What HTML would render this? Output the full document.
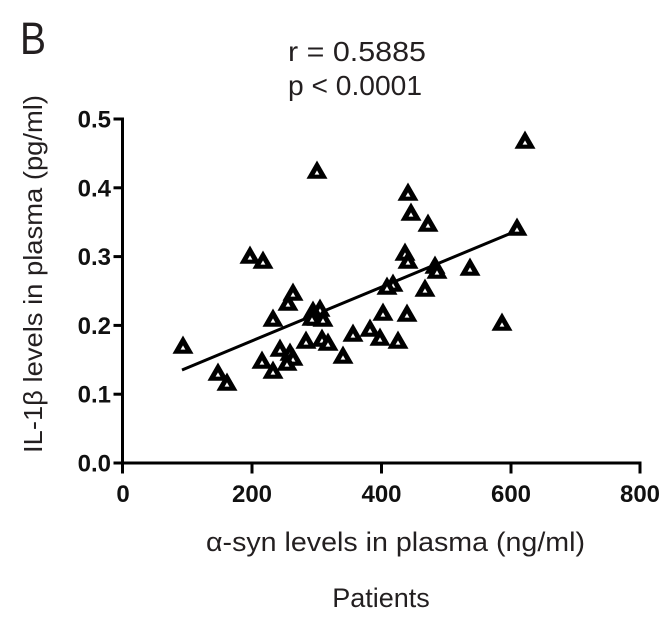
<!DOCTYPE html>
<html>
<head>
<meta charset="utf-8">
<style>
html,body{margin:0;padding:0;background:#fff;}
svg{display:block;}
</style>
</head>
<body>
<svg width="672" height="621" viewBox="0 0 672 621" xmlns="http://www.w3.org/2000/svg">
<defs>
<g id="t">
<polygon points="-10.5,8.8 10.5,8.8 0,-9.5" fill="#000"/>
<polygon points="-2.4,4.6 2.4,4.6 0,0.4" fill="#fff"/>
</g>
</defs>
<rect width="672" height="621" fill="#fff"/>

<text x="20" y="54" font-family="Liberation Sans, sans-serif" font-size="45" fill="#231f20" textLength="26" lengthAdjust="spacingAndGlyphs">B</text>

<text x="288" y="61" font-family="Liberation Sans, sans-serif" font-size="28" fill="#231f20" textLength="138" lengthAdjust="spacingAndGlyphs">r = 0.5885</text>
<text x="288" y="95" font-family="Liberation Sans, sans-serif" font-size="28" fill="#231f20" textLength="134" lengthAdjust="spacingAndGlyphs">p &lt; 0.0001</text>

<g stroke="#000" stroke-width="3" fill="none" stroke-linecap="square">
<line x1="122.5" y1="119" x2="122.5" y2="463"/>
<line x1="122.5" y1="463" x2="640" y2="463"/>
<line x1="115" y1="119" x2="122.5" y2="119"/>
<line x1="115" y1="187.8" x2="122.5" y2="187.8"/>
<line x1="115" y1="256.6" x2="122.5" y2="256.6"/>
<line x1="115" y1="325.4" x2="122.5" y2="325.4"/>
<line x1="115" y1="394.2" x2="122.5" y2="394.2"/>
<line x1="115" y1="463" x2="122.5" y2="463"/>
<line x1="122.5" y1="463" x2="122.5" y2="472"/>
<line x1="252" y1="463" x2="252" y2="472"/>
<line x1="381.5" y1="463" x2="381.5" y2="472"/>
<line x1="511" y1="463" x2="511" y2="472"/>
<line x1="640" y1="463" x2="640" y2="472"/>
</g>

<g font-family="Liberation Sans, sans-serif" font-size="24" font-weight="bold" fill="#111" text-anchor="end">
<text x="111" y="127.5">0.5</text>
<text x="111" y="196.3">0.4</text>
<text x="111" y="265.1">0.3</text>
<text x="111" y="333.9">0.2</text>
<text x="111" y="402.7">0.1</text>
<text x="111" y="471.5">0.0</text>
</g>

<g font-family="Liberation Sans, sans-serif" font-size="24" font-weight="bold" fill="#111" text-anchor="middle">
<text x="123" y="502">0</text>
<text x="252" y="502">200</text>
<text x="381.5" y="502">400</text>
<text x="511" y="502">600</text>
<text x="640" y="502">800</text>
</g>

<text x="206" y="551" font-family="Liberation Sans, sans-serif" font-size="27" fill="#231f20" textLength="379" lengthAdjust="spacingAndGlyphs">α-syn levels in plasma (ng/ml)</text>
<text x="381" y="607" font-family="Liberation Sans, sans-serif" font-size="27" fill="#231f20" text-anchor="middle">Patients</text>
<text transform="translate(42,453) rotate(-90)" x="0" y="0" font-family="Liberation Sans, sans-serif" font-size="26" fill="#231f20" textLength="358" lengthAdjust="spacingAndGlyphs">IL-1β levels in plasma (pg/ml)</text>

<line x1="182" y1="370" x2="509" y2="234" stroke="#000" stroke-width="3"/>

<use href="#t" x="183" y="345"/>
<use href="#t" x="218" y="372"/>
<use href="#t" x="227" y="382"/>
<use href="#t" x="250" y="255"/>
<use href="#t" x="263" y="260"/>
<use href="#t" x="317" y="170"/>
<use href="#t" x="293" y="292"/>
<use href="#t" x="288" y="302"/>
<use href="#t" x="273" y="318"/>
<use href="#t" x="313" y="310"/>
<use href="#t" x="320" y="308"/>
<use href="#t" x="317" y="317"/>
<use href="#t" x="323" y="318"/>
<use href="#t" x="312" y="317"/>
<use href="#t" x="306" y="340"/>
<use href="#t" x="322" y="338"/>
<use href="#t" x="328" y="342"/>
<use href="#t" x="343" y="355"/>
<use href="#t" x="353" y="333"/>
<use href="#t" x="370" y="328"/>
<use href="#t" x="280" y="348"/>
<use href="#t" x="290" y="352"/>
<use href="#t" x="293" y="357"/>
<use href="#t" x="287" y="362"/>
<use href="#t" x="262" y="360"/>
<use href="#t" x="273" y="370"/>
<use href="#t" x="408" y="192"/>
<use href="#t" x="411" y="212"/>
<use href="#t" x="428" y="223"/>
<use href="#t" x="405" y="252"/>
<use href="#t" x="408" y="260"/>
<use href="#t" x="435" y="265"/>
<use href="#t" x="437" y="270"/>
<use href="#t" x="470" y="267"/>
<use href="#t" x="425" y="288"/>
<use href="#t" x="393" y="283"/>
<use href="#t" x="387" y="286"/>
<use href="#t" x="383" y="312"/>
<use href="#t" x="407" y="313"/>
<use href="#t" x="380" y="337"/>
<use href="#t" x="398" y="340"/>
<use href="#t" x="502" y="322"/>
<use href="#t" x="517" y="227"/>
<use href="#t" x="525" y="140"/>
</svg>
</body>
</html>
